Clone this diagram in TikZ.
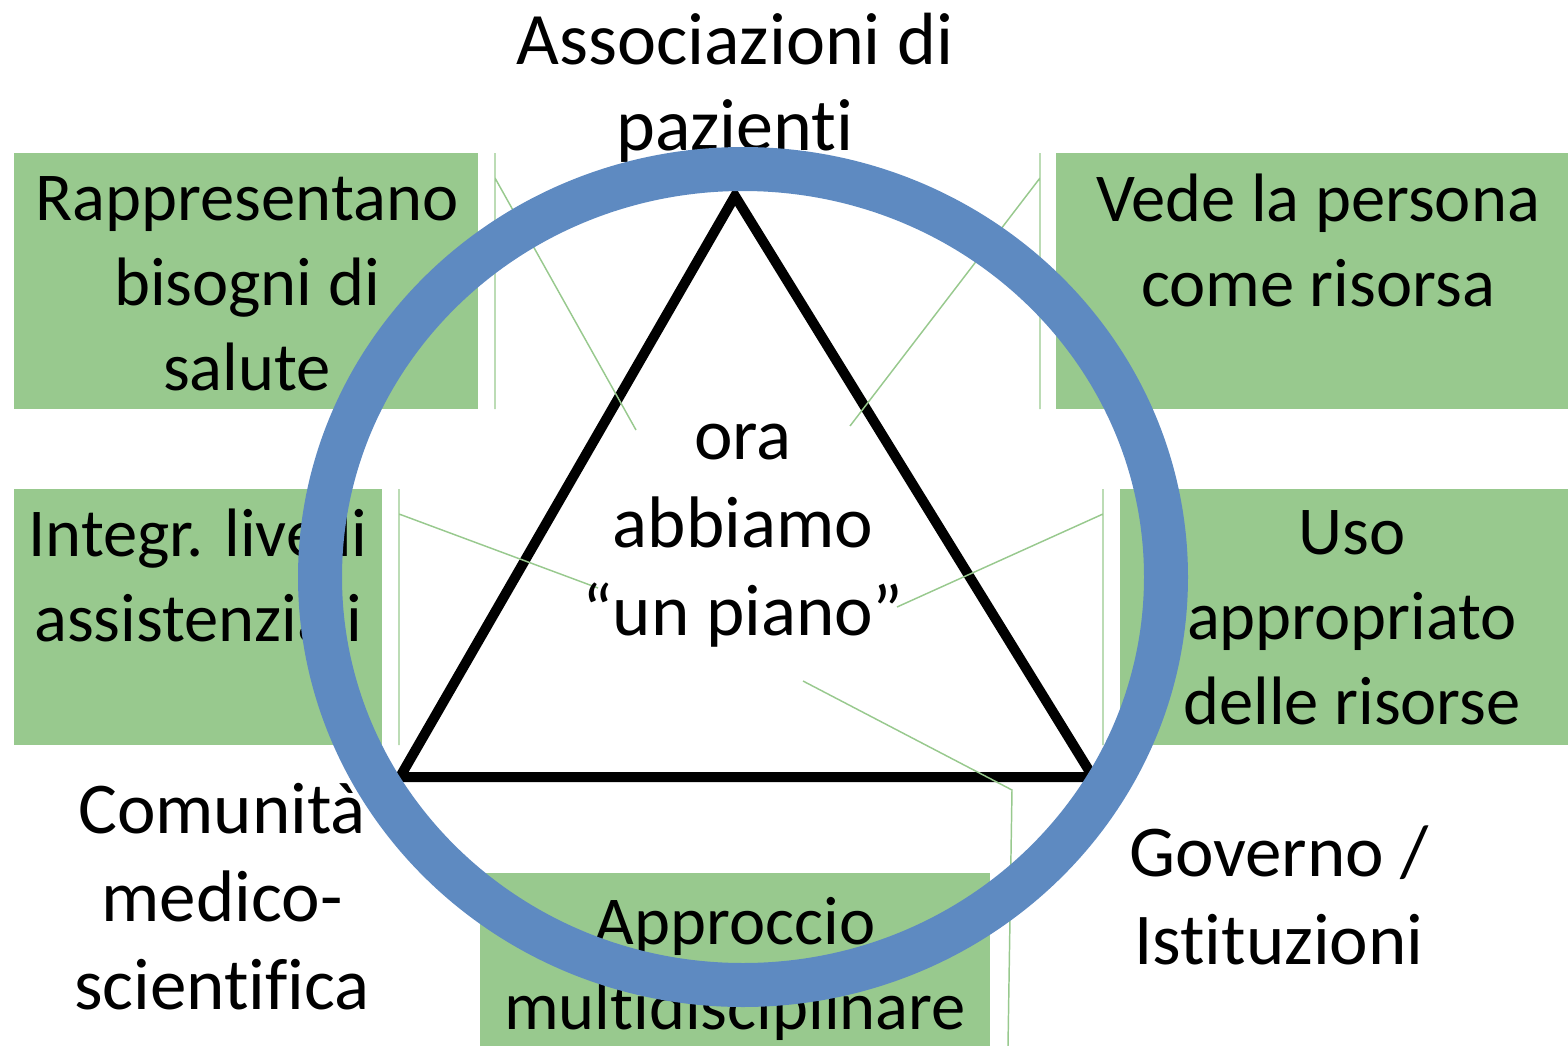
\documentclass[tikz,border=0pt]{standalone}
\usepackage{fontspec}
\setmainfont{Carlito}[Ligatures={NoCommon}]
\definecolor{boxgreen}{RGB}{152,201,142}
\definecolor{ringblue}{RGB}{94,138,193}
\tikzset{every picture/.style={line width=0.75pt}}
\tikzset{
  calltext/.style={inner sep=0pt, align=center, font=\fontsize{51.4}{63.75}\selectfont},
  bigtext/.style={inner sep=0pt, align=center, font=\fontsize{54.75}{66}\selectfont},
  callbox/.style={fill=boxgreen, draw=none},
  callline/.style={draw=boxgreen, line width=1.1pt},
}

\begin{document}
\begin{tikzpicture}[x=0.75pt,y=0.75pt,yscale=-1,xscale=1]
\useasboundingbox (0,0) rectangle (1568,1046);

%Shape: Triangle [id:triangolo]
\draw [line width=7.5pt] (735,196) -- (1093,777) -- (400,777) -- cycle ;

%Shape: Callout [id:bisogni]
\fill [callbox] (14,153) rectangle (478,409) ;
\draw [callline] (495,153) -- (495,409) (495,178) -- (636,430) ;
%Shape: Callout [id:risorsa]
\fill [callbox] (1056,153) rectangle (1568,409) ;
\draw [callline] (1040,153) -- (1040,409) (1040,178) -- (850,426) ;
%Shape: Callout [id:livelli]
\fill [callbox] (14,489) rectangle (382,745) ;
\draw [callline] (399,489) -- (399,745) (399,514) -- (598,588) ;
%Shape: Callout [id:uso]
\fill [callbox] (1120,489) rectangle (1568,745) ;
\draw [callline] (1103,489) -- (1103,745) (1103,514) -- (897,607) ;
%Shape: Callout [id:approccio]
\fill [callbox] (480,873) rectangle (990,1046) ;
\draw [callline] (803,681) -- (1012,790) -- (1008,1046) ;

% Text Node
\draw (735,88) node (assoc) [inner sep=0pt, align=center, font=\fontsize{55.5}{64.5}\selectfont] {Associazioni di\\pazienti};
% Text Node
\draw (247,284) node (bisogni) [calltext] {Rappresentano\\bisogni di\\salute};
% Text Node
\draw (1318,240) node (risorsa) [calltext] {Vede la persona\\come risorsa};
% Text Node
\draw (198,575) node (livelli) [calltext] {Integr. livelli\\assistenziali};
% Text Node
\draw (1352,618) node (uso) [calltext] {Uso\\appropriato\\delle risorse};
% Text Node
\draw (735,969) node (approccio) [calltext] {Approccio\\multidisciplinare};
% Text Node
\draw (743,536) node (piano) [bigtext] {ora\\abbiamo\\“un piano”};
% Text Node
\draw (1279,895) node (governo) [bigtext] {Governo /\\Istituzioni};

%Shape: Circle [id:anello]
\draw [ringblue, line width=33pt] (743,577) ellipse [x radius=317.25pt, y radius=306pt] ;

% Text Node
\draw (222,897) node (comunita) [bigtext] {Comunità\\medico-\\scientifica};

\end{tikzpicture}
\end{document}
